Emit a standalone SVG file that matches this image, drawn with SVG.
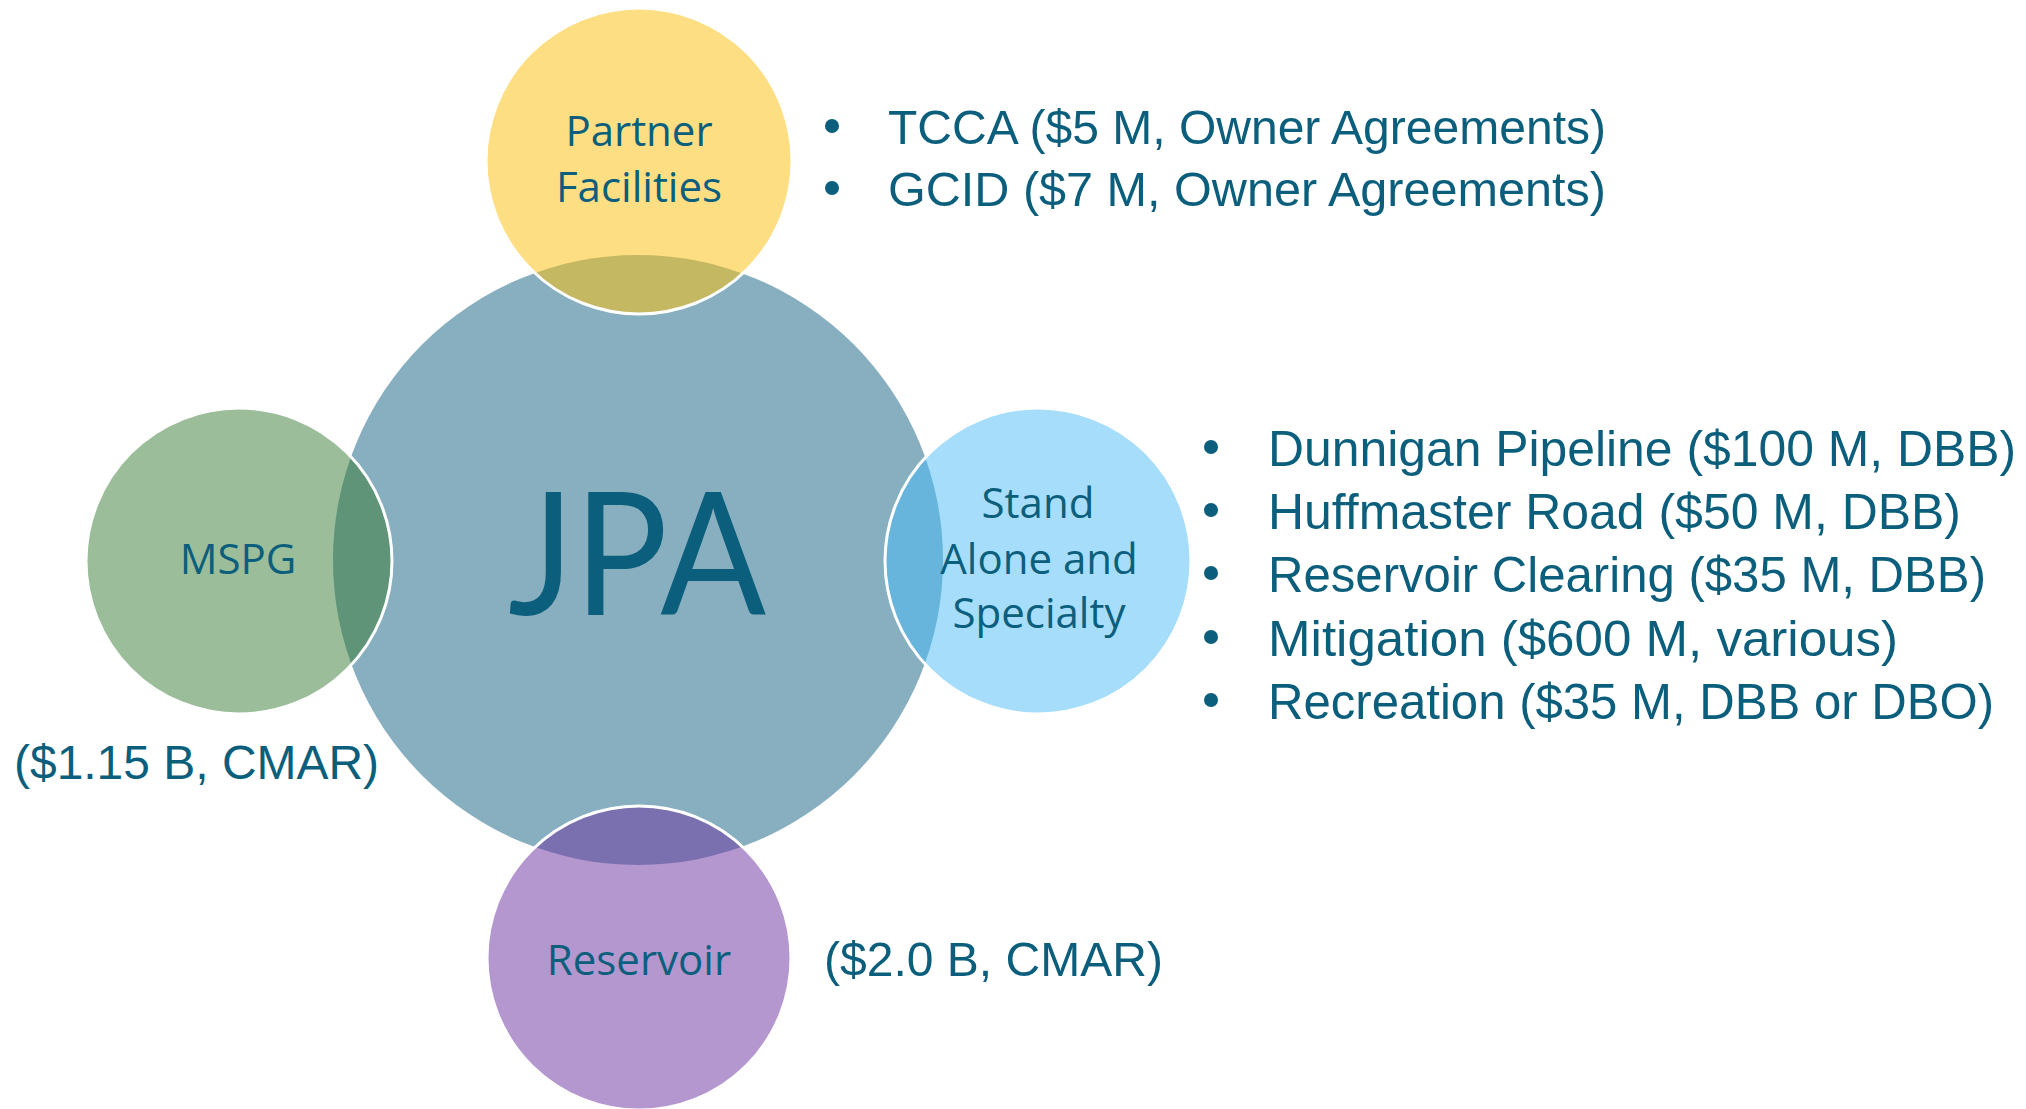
<svg xmlns="http://www.w3.org/2000/svg" width="2026" height="1109" viewBox="0 0 2026 1109">
<style>
.lbl{font-family:"Open Sans","Noto Sans","DejaVu Sans",sans-serif;fill:#0C5F7C;text-anchor:middle}
.big{font-family:Lato,"Open Sans","DejaVu Sans",sans-serif;fill:#0C5F7C}
.lst{font-family:"Liberation Sans",Arial,sans-serif;fill:#0C5F7C}
.bul{fill:#0C5F7C}
.edge{fill:none;stroke:#FFFFFF;stroke-width:3}
</style>
<defs>
<clipPath id="clipJPA"><circle cx="638" cy="560" r="305"/></clipPath>
</defs>
<rect width="2026" height="1109" fill="#FFFFFF"/>
<g id="jpa">
<circle cx="638" cy="560" r="305" fill="#87AFBF"/>
<text class="big" x="508" y="615" font-size="170" textLength="258" lengthAdjust="spacingAndGlyphs">JPA</text>
</g>
<g id="partner-facilities">
<circle cx="639" cy="161" r="153" fill="#FEDE82"/>
<circle cx="639" cy="161" r="153" fill="#C4B862" clip-path="url(#clipJPA)"/>
<circle cx="639" cy="161" r="153" class="edge"/>
<text class="lbl" x="639" y="146" font-size="42">Partner</text>
<text class="lbl" x="639" y="202" font-size="42">Facilities</text>
</g>
<g id="mspg">
<circle cx="239" cy="561" r="153" fill="#9BBD9A"/>
<circle cx="239" cy="561" r="153" fill="#5F9479" clip-path="url(#clipJPA)"/>
<circle cx="239" cy="561" r="153" class="edge"/>
<text class="lbl" x="238" y="574" font-size="42">MSPG</text>
</g>
<g id="stand-alone">
<circle cx="1038" cy="561" r="153" fill="#A5DDFA"/>
<circle cx="1038" cy="561" r="153" fill="#67B5DD" clip-path="url(#clipJPA)"/>
<circle cx="1038" cy="561" r="153" class="edge"/>
<text class="lbl" x="1038" y="518" font-size="42">Stand</text>
<text class="lbl" x="1039" y="574" font-size="42">Alone and</text>
<text class="lbl" x="1039" y="628" font-size="42">Specialty</text>
</g>
<g id="reservoir">
<circle cx="639" cy="958" r="152" fill="#B597CF"/>
<circle cx="639" cy="958" r="152" fill="#7B70AF" clip-path="url(#clipJPA)"/>
<circle cx="639" cy="958" r="152" class="edge"/>
<text class="lbl" x="639" y="975" font-size="42">Reservoir</text>
</g>
<g id="connectors"></g>
<g id="partner-list">
<circle class="bul" cx="832" cy="126" r="7"/>
<text class="lst" x="888" y="144" font-size="48" textLength="718" lengthAdjust="spacingAndGlyphs">TCCA ($5 M, Owner Agreements)</text>
<circle class="bul" cx="832" cy="188" r="7"/>
<text class="lst" x="888" y="206" font-size="48" textLength="718" lengthAdjust="spacingAndGlyphs">GCID ($7 M, Owner Agreements)</text>
</g>
<g id="mspg-cost">
<text class="lst" x="14" y="779" font-size="48" textLength="365" lengthAdjust="spacingAndGlyphs">($1.15 B, CMAR)</text>
</g>
<g id="reservoir-cost">
<text class="lst" x="824" y="976" font-size="48" textLength="339" lengthAdjust="spacingAndGlyphs">($2.0 B, CMAR)</text>
</g>
<g id="stand-alone-list">
<circle class="bul" cx="1211" cy="447" r="7"/>
<text class="lst" x="1268" y="466" font-size="50" textLength="748" lengthAdjust="spacingAndGlyphs">Dunnigan Pipeline ($100 M, DBB)</text>
<circle class="bul" cx="1211" cy="510" r="7"/>
<text class="lst" x="1268" y="529" font-size="50" textLength="693" lengthAdjust="spacingAndGlyphs">Huffmaster Road ($50 M, DBB)</text>
<circle class="bul" cx="1211" cy="573" r="7"/>
<text class="lst" x="1268" y="592" font-size="50" textLength="718" lengthAdjust="spacingAndGlyphs">Reservoir Clearing ($35 M, DBB)</text>
<circle class="bul" cx="1211" cy="637" r="7"/>
<text class="lst" x="1268" y="656" font-size="50" textLength="630" lengthAdjust="spacingAndGlyphs">Mitigation ($600 M, various)</text>
<circle class="bul" cx="1211" cy="700" r="7"/>
<text class="lst" x="1268" y="719" font-size="50" textLength="726" lengthAdjust="spacingAndGlyphs">Recreation ($35 M, DBB or DBO)</text>
</g>
</svg>
